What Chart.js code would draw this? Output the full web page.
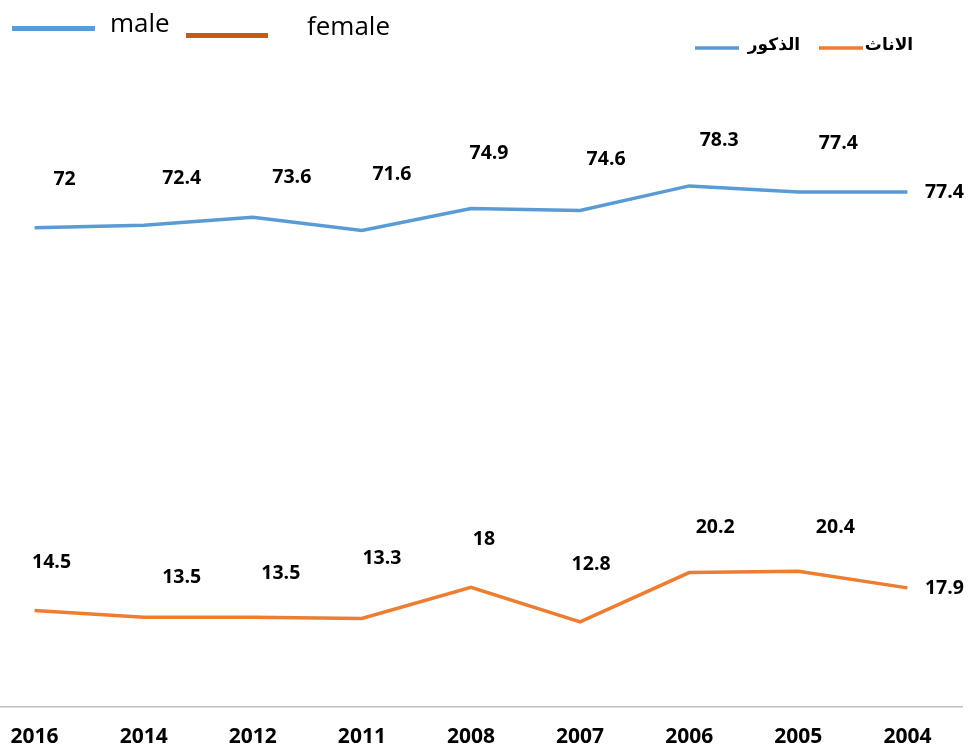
<!DOCTYPE html>
<html>
<head>
<meta charset="utf-8">
<script src="https://cdn.jsdelivr.net/npm/chart.js@4.4.0/dist/chart.umd.min.js"></script>
<style>
    html, body { margin: 0; padding: 0; background: #fff; overflow: hidden; }
    #ChartTable { position: absolute; left: -20px; top: 0; width: 989px; height: 749px; }
</style>
</head>
<body>
<div id="ChartTable"><canvas id="graphCanvas"></canvas></div>
<script>
const years = ['2016', '2014', '2012', '2011', '2008', '2007', '2006', '2005', '2004']
const male = [72, 72.4, 73.6, 71.6, 74.9, 74.6, 78.3, 77.4, 77.4]
const female = [14.5, 13.5, 13.5, 13.3, 18, 12.8, 20.2, 20.4, 17.9]
const seriesNames = ['الذكور', 'الاناث']
const englishNames = ['male', 'female']

// hand nudges for the value labels (centre of text relative to the point)
const maleLabelShift = [[30, -48], [38, -47], [39, -40], [30, -56], [18, -55], [26, -51], [30, -45], [40, -48], [37, 1]]
const femaleLabelShift = [[17, -48], [38, -40], [28, -44], [20, -60], [13, -48], [11, -57], [26, -45], [37, -44], [37, 1]]

const pageShift = 20   // canvas sits 20px left of the page

const valueLabels = {
    id: 'valueLabels',
    afterDatasetsDraw(chart) {
        const ctx = chart.ctx
        const shifts = [maleLabelShift, femaleLabelShift]
        ctx.save()
        ctx.font = 'bold 19.5px "Open Sans"'
        ctx.fillStyle = '#000'
        ctx.textAlign = 'center'
        ctx.textBaseline = 'middle'
        chart.data.datasets.forEach((ds, i) => {
            const meta = chart.getDatasetMeta(i)
            meta.data.forEach((pt, j) => {
                const s = shifts[i][j]
                ctx.fillText(String(ds.data[j]), pt.x + s[0], pt.y + s[1])
            })
        })
        ctx.restore()
    }
}

const legends = {
    id: 'legends',
    afterDraw(chart) {
        const ctx = chart.ctx
        const ds = chart.data.datasets
        ctx.save()
        // english legend, top left
        ctx.lineCap = 'butt'
        ctx.lineWidth = 5
        ctx.strokeStyle = '#5B9BD5'
        ctx.beginPath(); ctx.moveTo(12 + pageShift, 28.5); ctx.lineTo(95 + pageShift, 28.5); ctx.stroke()
        ctx.strokeStyle = '#C55A11'
        ctx.beginPath(); ctx.moveTo(186 + pageShift, 35.5); ctx.lineTo(268 + pageShift, 35.5); ctx.stroke()
        ctx.font = '26px "Open Sans"'
        ctx.fillStyle = '#000'
        ctx.textAlign = 'left'
        ctx.textBaseline = 'alphabetic'
        ctx.fillText(englishNames[0], 110 + pageShift, 32)
        ctx.fillText(englishNames[1], 307 + pageShift, 35)

        // arabic legend, top right
        ctx.lineWidth = 3.5
        ctx.strokeStyle = ds[0].borderColor
        ctx.beginPath(); ctx.moveTo(695 + pageShift, 48); ctx.lineTo(739 + pageShift, 48); ctx.stroke()
        ctx.strokeStyle = ds[1].borderColor
        ctx.beginPath(); ctx.moveTo(819 + pageShift, 48); ctx.lineTo(863 + pageShift, 48); ctx.stroke()
        ctx.font = 'bold 17px "DejaVu Sans"'
        ctx.textBaseline = 'middle'
        ctx.textAlign = 'center'
        ctx.fillText(ds[0].label, 774 + pageShift, 46)
        ctx.fillText(ds[1].label, 889 + pageShift, 46)
        ctx.restore()
    }
}

const chartdata = {
    labels: years,
    datasets: [
        {
            label: seriesNames[0],
            data: male,
            borderColor: '#5B9BD5',
            backgroundColor: '#5B9BD5',
            borderWidth: 3.5,
            pointRadius: 0,
            tension: 0
        },
        {
            label: seriesNames[1],
            data: female,
            borderColor: '#ED7D31',
            backgroundColor: '#ED7D31',
            borderWidth: 3.5,
            pointRadius: 0,
            tension: 0
        }
    ]
}

new Chart(document.getElementById('graphCanvas'), {
    type: 'line',
    data: chartdata,
    options: {
        responsive: true,
        maintainAspectRatio: false,
        animation: false,
        layout: { padding: { top: 41.5, right: 7, left: 0, bottom: 0 } },
        plugins: {
            legend: { display: false },
            tooltip: { enabled: false }
        },
        scales: {
            x: {
                offset: true,
                grid: { display: false, drawTicks: false },
                border: { display: true, color: '#BFBFBF', width: 1.5 },
                ticks: {
                    color: '#000',
                    padding: 17,
                    maxRotation: 0,
                    autoSkip: false,
                    font: { family: 'Open Sans', weight: 'bold', size: 21 }
                },
                afterFit(scale) { scale.height = 42 }
            },
            y: {
                display: false,
                min: 0,
                max: 100
            }
        }
    },
    plugins: [valueLabels, legends]
})
</script>
</body>
</html>
